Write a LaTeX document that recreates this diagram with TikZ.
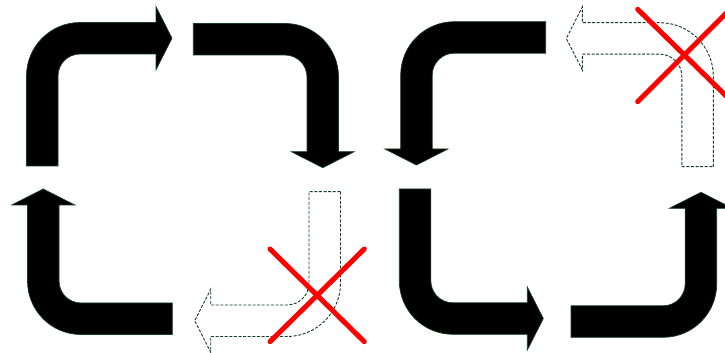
\documentclass[tikz,border=0pt]{standalone}
\usepackage{tikz}
\definecolor{arrowline}{RGB}{20,60,40}
\tikzset{
  solidarrow/.style={fill=black, draw=arrowline, line width=0.7pt, line join=miter},
  ghostarrow/.style={fill=white, draw=arrowline, line width=0.9pt, dash pattern=on 3pt off 1.6pt},
  crossline/.style={draw=red, line width=5pt, line cap=round}
}
% bent arrow in canonical orientation: corner centre at origin,
% tail going down (length #2), head pointing right (head base at x=#3)
\newcommand{\bentarrow}[3][]{%
  \path[#1] (-53.5,-#2) -- (-53.5,0) arc[start angle=180,end angle=90,radius=53.5]
    -- (#3,53.5) -- (#3,69.25) -- ({#3+16},37.75) -- (#3,6.25) -- (#3,22)
    -- (0,22) arc[start angle=90,end angle=180,radius=22] -- (-22,-#2) -- cycle;}
\begin{document}
\begin{tikzpicture}[x=1pt,y=1pt]
\useasboundingbox (0,0) rectangle (725,353);
% top-left loop
\begin{scope}[shift={(80,277)}]
  \bentarrow[solidarrow]{90}{76}
\end{scope}
\begin{scope}[shift={(285,276)},rotate=-90]
  \bentarrow[solidarrow]{91.7}{74.7}
\end{scope}
\begin{scope}[shift={(81,72)},rotate=90]
  \bentarrow[solidarrow]{91.3}{76}
\end{scope}
\begin{scope}[shift={(287,70)},rotate=180]
  \bentarrow[ghostarrow]{91.3}{76.3}
\end{scope}
% right loop
\begin{scope}[shift={(454.2,277.8)},xscale=-1,rotate=-90]
  \bentarrow[solidarrow]{91.5}{73.8}
\end{scope}
\begin{scope}[shift={(659.8,276.8)},xscale=-1]
  \bentarrow[ghostarrow]{90.5}{77.5}
\end{scope}
\begin{scope}[shift={(452.8,72.2)},yscale=-1]
  \bentarrow[solidarrow]{91.8}{74.5}
\end{scope}
\begin{scope}[shift={(663.2,69.2)},xscale=-1,rotate=90]
  \bentarrow[solidarrow]{92.2}{75.5}
\end{scope}
% crosses
\draw[crossline] (637.7,343.7) -- (731,252.3);
\draw[crossline] (637.7,251.3) -- (731,344.7);
\draw[crossline] (270,104) -- (364.3,11.3);
\draw[crossline] (270,11.3) -- (364.3,104);
\end{tikzpicture}
\end{document}
